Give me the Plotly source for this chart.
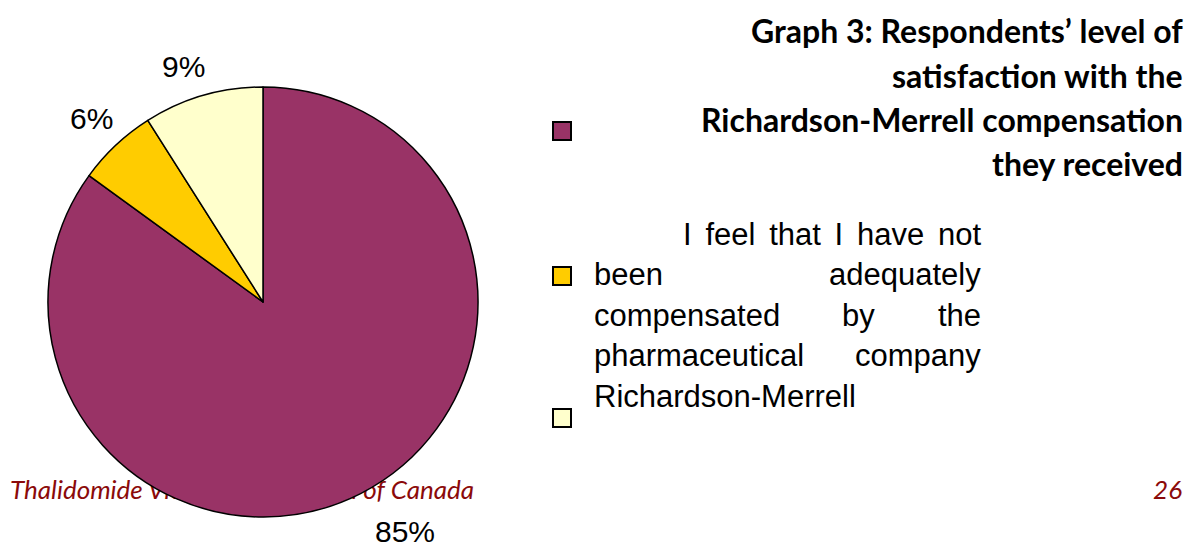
import math
import plotly.graph_objects as go

# slice data (clockwise from 12 o'clock)
answers = ["Not adequately compensated", "Answer 2", "Answer 3"]
shares = [85, 6, 9]
slice_colors = ["#993366", "#FFCC00", "#FFFFCC"]

title_lines = [
    "Graph 3: Respondents\u2019 level of",
    "satisfaction with the",
    "Richardson-Merrell compensation",
    "they received",
]

# justified legend paragraph: (text, x, anchor) pieces per line
SP = " \u2006"
legend_lines = [
    [(SP.join(["I", "feel", "that", "I", "have", "not"]), 983, "right")],
    [("been", 592, "left"), ("adequately", 983, "right")],
    [("compensated", 592, "left"), ("by", 858, "center"), ("the", 983, "right")],
    [("pharmaceutical", 592, "left"), ("company", 983, "right")],
    [("Richardson-Merrell", 592, "left")],
]

W, H = 1199, 548
OFF = 8  # page body margin of the html page


def px(x):
    return (x - OFF) / W


def py(y):
    return 1 - (y - OFF) / H


# pie geometry in page pixels
CX, CY, R = 263, 302, 215

fig = go.Figure()

# footer sits under the pie, so it is drawn as a text trace in a hidden cartesian layer
fig.add_trace(go.Scatter(
    x=[10 - OFF, 1182 - OFF], y=[492 - OFF, 492 - OFF],
    mode="text",
    text=["Thalidomide Victims Association of Canada", "26"],
    textposition=["middle right", "middle left"],
    textfont=dict(family="Lato", size=26, color="#8B0A0A", style="italic"),
    hoverinfo="skip", showlegend=False,
))

fig.add_trace(go.Pie(
    labels=answers,
    values=shares,
    sort=False,
    direction="clockwise",
    rotation=0,
    marker=dict(colors=slice_colors, line=dict(color="black", width=1.5)),
    textinfo="none",
    domain=dict(x=[px(CX - R), px(CX + R)], y=[py(CY + R), py(CY - R)]),
    showlegend=False,
    automargin=False,
    hoverinfo="label+percent",
))

annotations = []

# percentage labels outside the slices, placed from each slice's mid angle
total = sum(shares)
cum = 0
gap = 11
for v in shares:
    mid = (cum + v / 2) / total * 2 * math.pi
    cum += v
    sx, sy = math.sin(mid), -math.cos(mid)
    lx, ly = CX + (R + gap) * sx, CY + (R + gap) * sy
    annotations.append(dict(
        x=px(lx), y=py(ly), xref="paper", yref="paper",
        xanchor="left" if sx > 0 else "right",
        yanchor="top" if sy > 0 else "bottom",
        xshift=7, yshift=-10 if sy > 0 else 0,
        showarrow=False, text="%d%%" % round(100 * v / total),
        font=dict(family="Liberation Sans", size=30, color="black"),
    ))

for i, line in enumerate(title_lines):
    annotations.append(dict(
        x=px(1185), y=py(31 + 44 * i), xref="paper", yref="paper",
        xanchor="right", yanchor="middle", showarrow=False, text="<b>%s</b>" % line,
        font=dict(family="Lato", size=32, color="black"),
    ))

for i, line in enumerate(legend_lines):
    for word, x, anchor in line:
        annotations.append(dict(
            x=px(x), y=py(234 + 40.5 * i), xref="paper", yref="paper",
            xanchor=anchor, yanchor="middle", showarrow=False, text=word,
            font=dict(family="Liberation Sans", size=31, color="black"),
        ))

shapes = []
for c, yc in zip(slice_colors, [131, 276, 418]):
    shapes.append(dict(
        type="rect", xref="paper", yref="paper",
        x0=px(553), x1=px(571), y0=py(yc + 9), y1=py(yc - 9),
        fillcolor=c, line=dict(color="black", width=2),
    ))

fig.update_layout(
    width=W, height=H,
    margin=dict(l=0, r=0, t=0, b=0),
    paper_bgcolor="white", plot_bgcolor="white",
    xaxis=dict(range=[0, W], visible=False, fixedrange=True),
    yaxis=dict(range=[H, 0], visible=False, fixedrange=True),
    annotations=annotations,
    shapes=shapes,
)

fig.write_html("out.html")
